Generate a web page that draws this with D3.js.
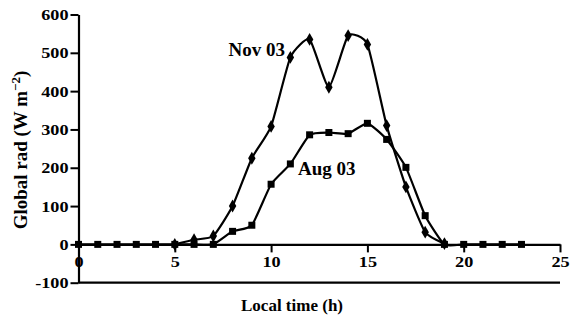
<!DOCTYPE html>
<html><head><meta charset="utf-8">
<script src="https://cdn.jsdelivr.net/npm/d3@7/dist/d3.min.js"></script>
<style>
body{margin:0;background:#fff;}
text{font-family:"Liberation Serif","Times New Roman",serif;font-weight:bold;fill:#000;}
</style></head>
<body><svg id="c" width="574" height="320"></svg>
<script>
const augHours = [0,1,2,3,4,5,6,7,8,9,10,11,12,13,14,15,16,17,18,19,20,21,22,23];
const augValues = [0,0,0,0,0,0,0,0,34,50,157,210,286,292,289,316,274,201,75,0,0,0,0,0];
const novHours = [5,6,7,8,9,10,11,12,13,14,15,16,17,18,19];
const novValues = [0,12,22,100,225,308,488,535,410,545,522,310,150,32,2];
const xTicks = [0,5,10,15,20,25];
const yTicks = [-100,0,100,200,300,400,500,600];

const svg = d3.select("#c");
const x = d3.scaleLinear().domain([0,25]).range([78.5,560]);
const y = d3.scaleLinear().domain([-100,600]).range([282.7,14.5]);
const SX = 1.3;

// y axis
const ya = svg.append("g").attr("transform","translate(78.5,0)")
  .call(d3.axisLeft(y).tickValues(yTicks).tickSize(8).tickSizeOuter(0).tickFormat(d=>String(d)));
ya.select(".domain").attr("stroke-width",2.2);
ya.selectAll(".tick line").attr("stroke-width",2);
ya.selectAll(".tick text").attr("x",null).attr("dy",null).attr("text-anchor","end")
  .style("font-size","14px")
  .attr("transform","translate(-10,5) scale("+SX+",1)");

// bottom frame line at -100
svg.append("line").attr("x1",x(0)).attr("x2",x(25)).attr("y1",y(-100)).attr("y2",y(-100))
  .attr("stroke","#000").attr("stroke-width",2.2);

// x axis at y=0
const xa = svg.append("g").attr("transform","translate(0,"+y(0)+")")
  .call(d3.axisBottom(x).tickValues(xTicks).tickSize(8).tickSizeOuter(0).tickFormat(d=>String(d)));
xa.select(".domain").attr("stroke-width",2.2);
xa.selectAll(".tick line").attr("stroke-width",2);
xa.selectAll(".tick text").attr("y",null).attr("dy",null).attr("text-anchor","middle")
  .style("font-size","14px")
  .attr("transform","translate(0,23) scale("+SX+",1)");

const line = d3.line().x(d=>x(d[0])).y(d=>y(d[1])).curve(d3.curveCardinal.tension(0.5));

const nov = novHours.map((h,i)=>[h,novValues[i]]);
const aug = augHours.map((h,i)=>[h,augValues[i]]);

svg.append("path").datum(nov).attr("d",line).attr("fill","none").attr("stroke","#000").attr("stroke-width",2.2);
svg.append("g").selectAll("path").data(nov).join("path")
  .attr("d",d3.symbol(d3.symbolDiamond,48)())
  .attr("transform",d=>"translate("+x(d[0])+","+y(d[1])+")").attr("fill","#000");

svg.append("path").datum(aug).attr("d",line).attr("fill","none").attr("stroke","#000").attr("stroke-width",2.2);
svg.append("g").selectAll("rect").data(aug).join("rect")
  .attr("x",d=>x(d[0])-3.5).attr("y",d=>y(d[1])-3.5).attr("width",7).attr("height",7).attr("fill","#000");

function label(txt,px,py,anchor,size){
  svg.append("text").attr("transform","translate("+px+","+py+")")
    .attr("text-anchor",anchor).style("font-size",size+"px").text(txt);
}
label("Nov 03",285,56,"end",19);
label("Aug 03",298,175,"start",19);
label("Local time (h)",292,311,"middle",17);

// y label
const yl = svg.append("text").attr("transform","translate(27,150) rotate(-90)")
  .attr("text-anchor","middle").style("font-size","19px");
yl.append("tspan").text("Global rad (W m");
yl.append("tspan").attr("dy",-7).style("font-size","13px").text("\u22122");
yl.append("tspan").attr("dy",7).text(")");
</script></body></html>
